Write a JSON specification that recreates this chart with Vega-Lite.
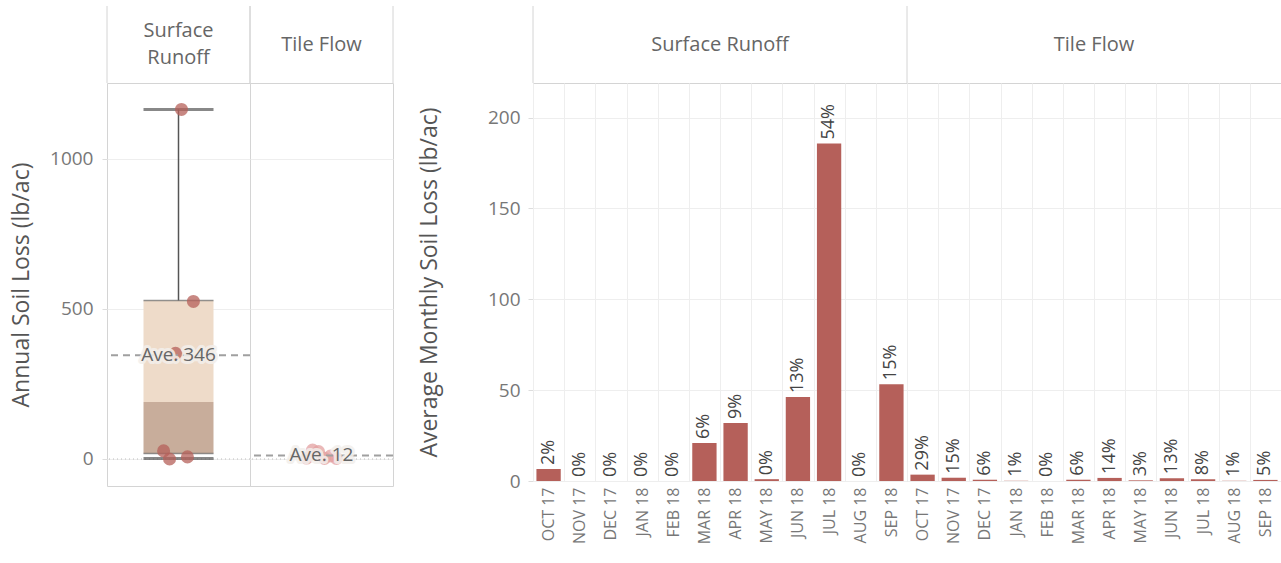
{
  "$schema": "https://vega.github.io/schema/vega-lite/v6.json",
  "padding": {"left": 10, "top": 5, "right": 0, "bottom": 0},
  "background": "white",
  "config": {
    "font": "Open Sans",
    "view": {"stroke": "#d4d4d4"},
    "axis": {"labelColor": "#777777", "titleColor": "#555555", "labelFontSize": 19, "titleFontSize": 23, "titleFontWeight": "normal", "gridColor": "#eeeeee", "tickColor": "#dddddd", "domain": false}
  },
  "datasets": {
    "headers": [
      {"Type": "Surface Runoff", "Label": "Surface\nRunoff", "Wide": "Surface Runoff"},
      {"Type": "Tile Flow", "Label": "Tile Flow", "Wide": "Tile Flow"}
    ],
    "annual": [
      {"kind": "pt", "Type": "Surface Runoff", "Year": 2013, "Loss": 27},
      {"kind": "pt", "Type": "Surface Runoff", "Year": 2014, "Loss": 0},
      {"kind": "pt", "Type": "Surface Runoff", "Year": 2015, "Loss": 352},
      {"kind": "pt", "Type": "Surface Runoff", "Year": 2016, "Loss": 1165},
      {"kind": "pt", "Type": "Surface Runoff", "Year": 2017, "Loss": 7},
      {"kind": "pt", "Type": "Surface Runoff", "Year": 2018, "Loss": 525},
      {"kind": "pt", "Type": "Tile Flow", "Year": 2013, "Loss": 3},
      {"kind": "pt", "Type": "Tile Flow", "Year": 2014, "Loss": 30},
      {"kind": "pt", "Type": "Tile Flow", "Year": 2015, "Loss": 25},
      {"kind": "pt", "Type": "Tile Flow", "Year": 2016, "Loss": 2},
      {"kind": "pt", "Type": "Tile Flow", "Year": 2017, "Loss": 10},
      {"kind": "pt", "Type": "Tile Flow", "Year": 2018, "Loss": 2},
      {"kind": "stats", "Type": "Surface Runoff", "min": 2, "q1": 18, "median": 190, "q3": 528, "max": 1165}
    ],
    "monthly": [
      {"Type": "Surface Runoff", "Month": "OCT 17", "Loss": 6.6, "Pct": "2%"},
      {"Type": "Surface Runoff", "Month": "NOV 17", "Loss": 0, "Pct": "0%"},
      {"Type": "Surface Runoff", "Month": "DEC 17", "Loss": 0, "Pct": "0%"},
      {"Type": "Surface Runoff", "Month": "JAN 18", "Loss": 0, "Pct": "0%"},
      {"Type": "Surface Runoff", "Month": "FEB 18", "Loss": 0, "Pct": "0%"},
      {"Type": "Surface Runoff", "Month": "MAR 18", "Loss": 20.9, "Pct": "6%"},
      {"Type": "Surface Runoff", "Month": "APR 18", "Loss": 31.9, "Pct": "9%"},
      {"Type": "Surface Runoff", "Month": "MAY 18", "Loss": 1.0, "Pct": "0%"},
      {"Type": "Surface Runoff", "Month": "JUN 18", "Loss": 46.2, "Pct": "13%"},
      {"Type": "Surface Runoff", "Month": "JUL 18", "Loss": 185.7, "Pct": "54%"},
      {"Type": "Surface Runoff", "Month": "AUG 18", "Loss": 0, "Pct": "0%"},
      {"Type": "Surface Runoff", "Month": "SEP 18", "Loss": 53.3, "Pct": "15%"},
      {"Type": "Tile Flow", "Month": "OCT 17", "Loss": 3.5, "Pct": "29%"},
      {"Type": "Tile Flow", "Month": "NOV 17", "Loss": 1.8, "Pct": "15%"},
      {"Type": "Tile Flow", "Month": "DEC 17", "Loss": 0.7, "Pct": "6%"},
      {"Type": "Tile Flow", "Month": "JAN 18", "Loss": 0.12, "Pct": "1%"},
      {"Type": "Tile Flow", "Month": "FEB 18", "Loss": 0, "Pct": "0%"},
      {"Type": "Tile Flow", "Month": "MAR 18", "Loss": 0.7, "Pct": "6%"},
      {"Type": "Tile Flow", "Month": "APR 18", "Loss": 1.7, "Pct": "14%"},
      {"Type": "Tile Flow", "Month": "MAY 18", "Loss": 0.36, "Pct": "3%"},
      {"Type": "Tile Flow", "Month": "JUN 18", "Loss": 1.56, "Pct": "13%"},
      {"Type": "Tile Flow", "Month": "JUL 18", "Loss": 0.96, "Pct": "8%"},
      {"Type": "Tile Flow", "Month": "AUG 18", "Loss": 0.12, "Pct": "1%"},
      {"Type": "Tile Flow", "Month": "SEP 18", "Loss": 0.6, "Pct": "5%"}
    ]
  },
  "spacing": 23,
  "hconcat": [
    {
      "spacing": 0,
      "bounds": "flush",
      "vconcat": [
        {
          "data": {"name": "headers"},
          "width": 286,
          "height": 77,
          "view": {"stroke": null},
          "layer": [
            {"mark": {"type": "rule", "color": "#d4d4d4"}, "encoding": {"x": {"field": "Type", "type": "nominal", "bandPosition": 0, "scale": {"paddingInner": 0, "paddingOuter": 0}, "axis": null}}},
            {"mark": {"type": "rule", "color": "#d4d4d4"}, "encoding": {"x": {"field": "Type", "type": "nominal", "bandPosition": 1, "scale": {"paddingInner": 0, "paddingOuter": 0}, "axis": null}}},
            {"transform": [{"filter": "datum.Type === 'Surface Runoff'"}], "mark": {"type": "text", "fontSize": 20, "color": "#666666", "lineBreak": "\n", "lineHeight": 27, "dy": -13.5}, "encoding": {"x": {"field": "Type", "type": "nominal", "scale": {"paddingInner": 0, "paddingOuter": 0}, "axis": null}, "text": {"field": "Label"}}},
            {"transform": [{"filter": "datum.Type === 'Tile Flow'"}], "mark": {"type": "text", "fontSize": 20, "color": "#666666"}, "encoding": {"x": {"field": "Type", "type": "nominal", "scale": {"paddingInner": 0, "paddingOuter": 0}, "axis": null}, "text": {"field": "Label"}}}
          ]
        },
        {
          "data": {"name": "annual"},
          "facet": {"column": {"field": "Type", "type": "nominal", "header": {"labels": false, "title": null, "labelPadding": 0, "titlePadding": 0}}},
          "spacing": 0,
          "bounds": "flush",
          "resolve": {"scale": {"x": "independent"}},
          "spec": {
            "width": 143,
            "height": 403,
            "resolve": {"scale": {"x": "independent"}},
            "layer": [
              {
                "transform": [{"filter": "datum.kind === 'pt'"}, {"aggregate": [{"op": "count", "as": "n"}], "groupby": ["Type"]}],
                "mark": {"type": "rule", "color": "#bbbbbb", "strokeDash": [1, 3], "strokeWidth": 1.2},
                "encoding": {
                  "y": {"datum": 0, "type": "quantitative", "title": "Annual Soil Loss (lb/ac)", "scale": {"domain": [-90, 1253], "nice": false, "zero": false}, "axis": {"values": [0, 500, 1000], "format": "d", "grid": true, "tickSize": 5, "labelPadding": 9, "titlePadding": 16}}
                }
              },
              {
                "transform": [{"filter": "datum.kind === 'stats'"}],
                "mark": {"type": "bar", "color": "#c8ad9b", "width": 70},
                "encoding": {
                  "x": {"field": "Type", "type": "nominal", "axis": null, "scale": {"paddingInner": 0, "paddingOuter": 0}},
                  "y": {"field": "q1", "type": "quantitative", "title": "Annual Soil Loss (lb/ac)"},
                  "y2": {"field": "median"}
                }
              },
              {
                "transform": [{"filter": "datum.kind === 'stats'"}],
                "mark": {"type": "bar", "color": "#eedbc9", "width": 70},
                "encoding": {
                  "x": {"field": "Type", "type": "nominal", "axis": null, "scale": {"paddingInner": 0, "paddingOuter": 0}},
                  "y": {"field": "median", "type": "quantitative", "title": "Annual Soil Loss (lb/ac)"},
                  "y2": {"field": "q3"}
                }
              },
              {
                "transform": [{"filter": "datum.kind === 'stats'"}],
                "mark": {"type": "rule", "color": "#555555", "strokeWidth": 1.5},
                "encoding": {
                  "x": {"field": "Type", "type": "nominal", "axis": null, "scale": {"paddingInner": 0, "paddingOuter": 0}},
                  "y": {"field": "q3", "type": "quantitative", "title": "Annual Soil Loss (lb/ac)"},
                  "y2": {"field": "max"}
                }
              },
              {
                "transform": [{"filter": "datum.kind === 'stats'"}],
                "mark": {"type": "tick", "color": "#666666", "thickness": 1.5, "size": 70},
                "encoding": {
                  "x": {"field": "Type", "type": "nominal", "axis": null, "scale": {"paddingInner": 0, "paddingOuter": 0}},
                  "y": {"field": "q1", "type": "quantitative", "title": "Annual Soil Loss (lb/ac)"}
                }
              },
              {
                "transform": [{"filter": "datum.kind === 'stats'"}],
                "mark": {"type": "tick", "color": "#666666", "thickness": 1.5, "size": 70},
                "encoding": {
                  "x": {"field": "Type", "type": "nominal", "axis": null, "scale": {"paddingInner": 0, "paddingOuter": 0}},
                  "y": {"field": "q3", "type": "quantitative", "title": "Annual Soil Loss (lb/ac)"}
                }
              },
              {
                "transform": [{"filter": "datum.kind === 'stats'"}],
                "mark": {"type": "tick", "color": "#555555", "thickness": 3, "size": 70},
                "encoding": {
                  "x": {"field": "Type", "type": "nominal", "axis": null, "scale": {"paddingInner": 0, "paddingOuter": 0}},
                  "y": {"field": "min", "type": "quantitative", "title": "Annual Soil Loss (lb/ac)"}
                }
              },
              {
                "transform": [{"filter": "datum.kind === 'stats'"}],
                "mark": {"type": "tick", "color": "#555555", "thickness": 3, "size": 70},
                "encoding": {
                  "x": {"field": "Type", "type": "nominal", "axis": null, "scale": {"paddingInner": 0, "paddingOuter": 0}},
                  "y": {"field": "max", "type": "quantitative", "title": "Annual Soil Loss (lb/ac)"}
                }
              },
              {
                "transform": [{"filter": "datum.kind === 'pt'"}],
                "mark": {"type": "circle", "size": 170, "opacity": 0.75},
                "encoding": {
                  "x": {"field": "Year", "type": "quantitative", "axis": null, "scale": {"domain": [2003.5, 2027.5], "nice": false, "zero": false}},
                  "y": {"field": "Loss", "type": "quantitative", "title": "Annual Soil Loss (lb/ac)"},
                  "color": {"field": "Type", "type": "nominal", "legend": null, "scale": {"domain": ["Surface Runoff", "Tile Flow"], "range": ["#b5605a", "#e3a0a0"]}}
                }
              },
              {
                "transform": [{"filter": "datum.kind === 'pt'"}, {"aggregate": [{"op": "mean", "field": "Loss", "as": "avg"}], "groupby": ["Type"]}],
                "mark": {"type": "rule", "color": "#a0a0a0", "strokeWidth": 2, "strokeDash": [7, 5]},
                "encoding": {
                  "y": {"field": "avg", "type": "quantitative", "title": "Annual Soil Loss (lb/ac)"}
                }
              },
              {
                "transform": [{"filter": "datum.kind === 'pt'"}, {"aggregate": [{"op": "mean", "field": "Loss", "as": "avg"}], "groupby": ["Type"]}, {"calculate": "'Ave. ' + format(datum.avg, '.0f')", "as": "label"}],
                "mark": {"type": "text", "fontSize": 19, "color": "#f3efec", "stroke": "#f3efec", "strokeWidth": 6, "strokeJoin": "round", "opacity": 0.85},
                "encoding": {
                  "x": {"field": "Type", "type": "nominal", "axis": null, "scale": {"paddingInner": 0, "paddingOuter": 0}},
                  "y": {"field": "avg", "type": "quantitative", "title": "Annual Soil Loss (lb/ac)"},
                  "text": {"field": "label"}
                }
              },
              {
                "transform": [{"filter": "datum.kind === 'pt'"}, {"aggregate": [{"op": "mean", "field": "Loss", "as": "avg"}], "groupby": ["Type"]}, {"calculate": "'Ave. ' + format(datum.avg, '.0f')", "as": "label"}],
                "mark": {"type": "text", "fontSize": 19, "color": "#666666"},
                "encoding": {
                  "x": {"field": "Type", "type": "nominal", "axis": null, "scale": {"paddingInner": 0, "paddingOuter": 0}},
                  "y": {"field": "avg", "type": "quantitative", "title": "Annual Soil Loss (lb/ac)"},
                  "text": {"field": "label"}
                }
              }
            ]
          }
        }
      ]
    },
    {
      "spacing": 0,
      "bounds": "flush",
      "vconcat": [
        {
          "data": {"name": "headers"},
          "width": 748,
          "height": 77,
          "view": {"stroke": null},
          "layer": [
            {"mark": {"type": "rule", "color": "#d4d4d4"}, "encoding": {"x": {"field": "Type", "type": "nominal", "bandPosition": 0, "scale": {"paddingInner": 0, "paddingOuter": 0}, "axis": null}}},
            {"mark": {"type": "text", "fontSize": 20, "color": "#666666"}, "encoding": {"x": {"field": "Type", "type": "nominal", "scale": {"paddingInner": 0, "paddingOuter": 0}, "axis": null}, "text": {"field": "Wide"}}}
          ]
        },
        {
          "data": {"name": "monthly"},
          "facet": {"column": {"field": "Type", "type": "nominal", "header": {"labels": false, "title": null, "labelPadding": 0, "titlePadding": 0}}},
          "spacing": 0,
          "bounds": "flush",
          "spec": {
            "width": 374,
            "height": 398,
            "encoding": {
              "x": {"field": "Month", "type": "ordinal", "sort": ["OCT 17", "NOV 17", "DEC 17", "JAN 18", "FEB 18", "MAR 18", "APR 18", "MAY 18", "JUN 18", "JUL 18", "AUG 18", "SEP 18"], "title": null, "scale": {"paddingInner": 0, "paddingOuter": 0}, "axis": {"labelAngle": -90, "tickBand": "extent", "grid": true, "ticks": false, "labelFontSize": 16, "labelPadding": 6}},
              "y": {"field": "Loss", "type": "quantitative", "title": "Average Monthly Soil Loss (lb/ac)", "scale": {"domain": [0, 219], "nice": false}, "axis": {"values": [0, 50, 100, 150, 200], "grid": true, "tickSize": 5, "labelPadding": 8, "titlePadding": 46}}
            },
            "layer": [
              {"mark": {"type": "bar", "color": "#b5605a", "width": {"band": 0.78}}},
              {"mark": {"type": "text", "angle": 270, "align": "left", "baseline": "middle", "dx": 4, "fontSize": 18, "color": "#444444"}, "encoding": {"text": {"field": "Pct"}}}
            ]
          }
        }
      ]
    }
  ]
}
